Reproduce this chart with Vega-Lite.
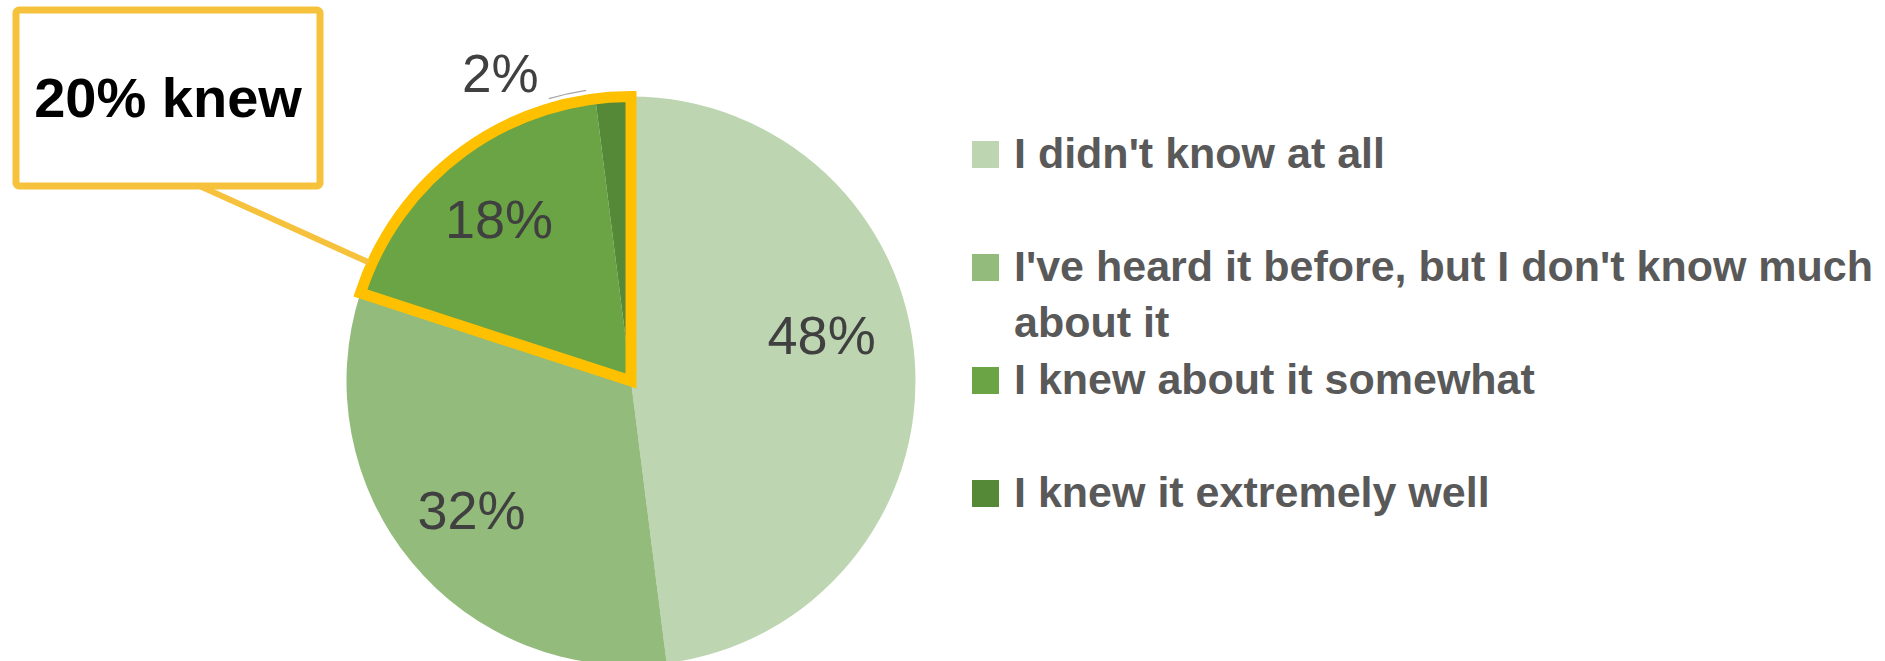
{
  "$schema": "https://vega.github.io/schema/vega-lite/v6.json",
  "background": "white",
  "padding": {"left": 12, "top": 6, "right": 0, "bottom": 0},
  "bounds": "flush",
  "spacing": 0,
  "config": {"style": {"guide-label": {"lineHeight": 56}}},
  "datasets": {
    "responses": [
      {"response": "I didn't know at all", "share": 0.48, "knew": "no"},
      {"response": "I've heard it before, but I don't know much about it", "share": 0.32, "knew": "no"},
      {"response": "I knew about it somewhat", "share": 0.18, "knew": "yes"},
      {"response": "I knew it extremely well", "share": 0.02, "knew": "yes"}
    ],
    "callout": [{"note": "20% knew"}]
  },
  "hconcat": [
    {
      "width": 304,
      "height": 176,
      "view": {"stroke": "#F6C13B", "strokeWidth": 7, "fill": "white", "cornerRadius": 3},
      "data": {"name": "callout"},
      "mark": {"type": "text", "font": "Liberation Sans", "fontSize": 56, "fontWeight": "bold", "color": "black", "align": "center", "baseline": "middle", "dy": 2},
      "encoding": {"text": {"field": "note", "type": "nominal"}}
    },
    {
      "width": 622,
      "height": 742,
      "view": {"stroke": null},
      "data": {"name": "responses"},
      "layer": [
        {
          "mark": {"type": "arc", "radius": 284.5},
          "encoding": {
            "theta": {"field": "share", "type": "quantitative", "stack": true},
            "order": {"field": "share", "type": "quantitative", "sort": "descending"},
            "color": {
              "field": "response",
              "type": "nominal",
              "scale": {
                "domain": ["I didn't know at all", "I've heard it before, but I don't know much about it", "I knew about it somewhat", "I knew it extremely well"],
                "range": ["#BDD6B1", "#93BB7B", "#6AA444", "#558937"]
              },
              "legend": {
                "orient": "none",
                "legendX": 948,
                "legendY": 123,
                "title": null,
                "padding": 0,
                "symbolType": "square",
                "symbolSize": 729,
                "symbolStrokeWidth": 0,
                "symbolOffset": 0,
                "labelFont": "Liberation Sans",
                "labelFontSize": 43,
                "labelFontWeight": "bold",
                "labelColor": "#595959",
                "labelLimit": 1200,
                "labelOffset": 7,
                "rowPadding": 13,
                "labelExpr": "length(datum.label) > 30 ? [\"I've heard it before, but I don't know much\", 'about it'] : [datum.label, '']"
              }
            }
          }
        },
        {
          "transform": [{"aggregate": [{"op": "sum", "field": "share", "as": "total"}], "groupby": ["knew"]}],
          "mark": {"type": "arc", "radius": 284.5, "filled": false, "strokeWidth": 11, "strokeJoin": "miter"},
          "encoding": {
            "theta": {"field": "total", "type": "quantitative", "stack": true},
            "order": {"field": "knew", "type": "nominal", "sort": "ascending"},
            "detail": {"field": "knew", "type": "nominal"},
            "stroke": {"condition": {"test": "datum.knew === 'yes'", "value": "#FFC000"}, "value": "transparent"}
          }
        },
        {
          "transform": [{"filter": "datum.knew === 'yes' && datum.share > 0.1"}],
          "mark": {"type": "arc", "theta": 5.137, "theta2": 5.137, "radius": 474, "radius2": 288, "filled": false, "stroke": "#F6C13B", "strokeWidth": 6},
          "encoding": {}
        },
        {
          "transform": [{"filter": "datum.share < 0.05"}],
          "mark": {"type": "arc", "theta": 6.0, "theta2": 6.13, "radius": 294, "radius2": 294, "filled": false, "stroke": "#A6A6A6", "strokeWidth": 1.3},
          "encoding": {}
        },
        {
          "mark": {"type": "text", "radius": 207, "font": "Liberation Sans", "fontSize": 54, "color": "#404040", "align": "center", "baseline": "middle"},
          "encoding": {
            "theta": {"field": "share", "type": "quantitative", "stack": true},
            "order": {"field": "share", "type": "quantitative", "sort": "descending"},
            "detail": {"field": "response", "type": "nominal"},
            "text": {"field": "share", "type": "quantitative", "format": ".0%"},
            "opacity": {"condition": {"test": "datum.share > 0.1 && datum.share < 0.4", "value": 1}, "value": 0}
          }
        },
        {
          "mark": {"type": "text", "radius": 196, "dx": -5, "dy": -31, "font": "Liberation Sans", "fontSize": 54, "color": "#404040", "align": "center", "baseline": "middle"},
          "encoding": {
            "theta": {"field": "share", "type": "quantitative", "stack": true},
            "order": {"field": "share", "type": "quantitative", "sort": "descending"},
            "detail": {"field": "response", "type": "nominal"},
            "text": {"field": "share", "type": "quantitative", "format": ".0%"},
            "opacity": {"condition": {"test": "datum.share > 0.4", "value": 1}, "value": 0}
          }
        },
        {
          "mark": {"type": "text", "radius": 330, "dx": -110, "dy": 24, "font": "Liberation Sans", "fontSize": 53, "color": "#404040", "align": "center", "baseline": "middle"},
          "encoding": {
            "theta": {"field": "share", "type": "quantitative", "stack": true},
            "order": {"field": "share", "type": "quantitative", "sort": "descending"},
            "detail": {"field": "response", "type": "nominal"},
            "text": {"field": "share", "type": "quantitative", "format": ".0%"},
            "opacity": {"condition": {"test": "datum.share < 0.05", "value": 1}, "value": 0}
          }
        }
      ]
    }
  ]
}
